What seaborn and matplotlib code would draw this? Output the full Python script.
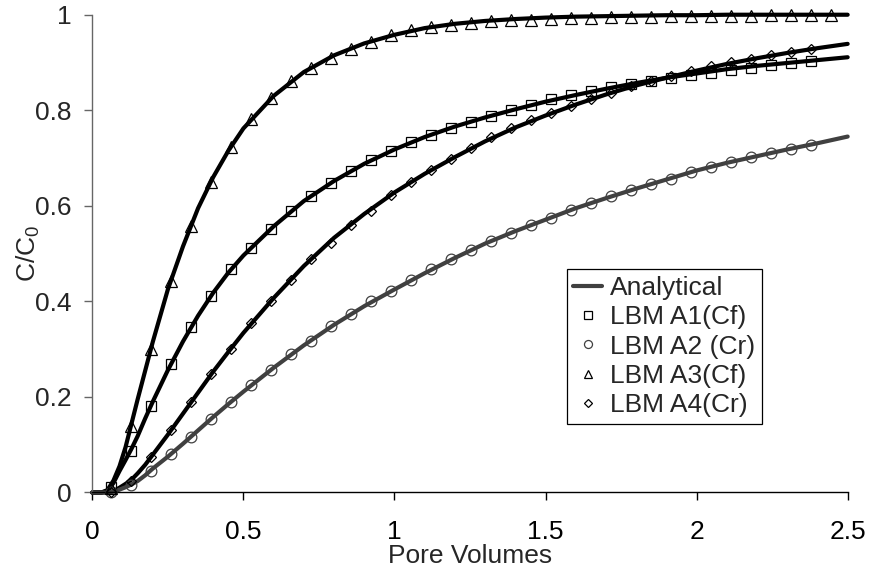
import numpy as np
import pandas as pd
import matplotlib
matplotlib.use("Agg")
import matplotlib.pyplot as plt
import seaborn as sns

sns.set_style("ticks")
plt.rcParams['font.family'] = ['Liberation Sans', 'DejaVu Sans']
plt.rcParams['font.size'] = 19

# sample positions of the LBM points (pore volumes)
lbm_x = [0.062, 0.128, 0.194, 0.261, 0.327, 0.393, 0.459, 0.525, 0.592, 0.658,
         0.724, 0.790, 0.856, 0.923, 0.989, 1.055, 1.121, 1.187, 1.254, 1.320,
         1.386, 1.452, 1.518, 1.585, 1.651, 1.717, 1.783, 1.849, 1.916, 1.982,
         2.048, 2.114, 2.180, 2.246, 2.313, 2.379, 2.445]

lbm_a1 = [0.011, 0.086, 0.182, 0.269, 0.346, 0.412, 0.467, 0.512, 0.552, 0.589,
          0.621, 0.648, 0.673, 0.695, 0.714, 0.733, 0.749, 0.763, 0.776, 0.788,
          0.801, 0.812, 0.823, 0.833, 0.841, 0.848, 0.855, 0.862, 0.868, 0.873,
          0.879, 0.885, 0.889, 0.894, 0.898, 0.903]
lbm_a2 = [0.002, 0.015, 0.045, 0.081, 0.117, 0.154, 0.190, 0.224, 0.257, 0.290,
          0.318, 0.348, 0.374, 0.400, 0.422, 0.445, 0.467, 0.488, 0.508, 0.527,
          0.544, 0.560, 0.575, 0.592, 0.606, 0.621, 0.633, 0.646, 0.657, 0.670,
          0.682, 0.692, 0.702, 0.710, 0.719, 0.728]
lbm_a3 = [0.010, 0.140, 0.300, 0.443, 0.557, 0.649, 0.723, 0.781, 0.825, 0.862,
          0.889, 0.910, 0.929, 0.943, 0.957, 0.967, 0.974, 0.979, 0.983, 0.986,
          0.988, 0.990, 0.992, 0.993, 0.994, 0.995, 0.996, 0.996, 0.997, 0.997,
          0.998, 0.998, 0.998, 0.999, 0.999, 0.999, 0.999]
lbm_a4 = [0.000, 0.025, 0.074, 0.130, 0.189, 0.247, 0.301, 0.354, 0.400, 0.445,
          0.488, 0.523, 0.560, 0.590, 0.622, 0.649, 0.674, 0.698, 0.722, 0.744,
          0.763, 0.779, 0.794, 0.809, 0.824, 0.836, 0.851, 0.861, 0.872, 0.883,
          0.893, 0.901, 0.908, 0.915, 0.922, 0.929]

# analytical solutions
ana_x = [0, 0.03, 0.05, 0.07, 0.09, 0.11, 0.13, 0.15, 0.175, 0.2,
         0.25, 0.3, 0.35, 0.4, 0.45, 0.5,
         0.6, 0.7, 0.8, 0.9, 1.0, 1.1, 1.2, 1.3, 1.4, 1.5,
         1.6, 1.7, 1.8, 1.9, 2.0, 2.1, 2.2, 2.3, 2.4, 2.5]
ana_a1 = [0, 0, 0.003, 0.020, 0.045, 0.068, 0.092, 0.118, 0.155, 0.190,
          0.256, 0.316, 0.370, 0.418, 0.460, 0.496,
          0.557, 0.610, 0.652, 0.688, 0.718, 0.744, 0.766, 0.785, 0.802, 0.818,
          0.832, 0.845, 0.857, 0.868, 0.877, 0.886, 0.893, 0.899, 0.905, 0.911]
ana_a2 = [0, 0, 0, 0.002, 0.006, 0.011, 0.017, 0.024, 0.036, 0.050,
          0.075, 0.102, 0.130, 0.158, 0.185, 0.211,
          0.261, 0.308, 0.351, 0.390, 0.425, 0.459, 0.491, 0.521, 0.547, 0.571,
          0.595, 0.616, 0.636, 0.655, 0.674, 0.690, 0.704, 0.718, 0.731, 0.745]
ana_a3 = [0, 0, 0.005, 0.025, 0.055, 0.095, 0.145, 0.195, 0.255, 0.315,
          0.425, 0.515, 0.595, 0.660, 0.715, 0.762,
          0.830, 0.880, 0.915, 0.940, 0.958, 0.972, 0.981, 0.987, 0.991, 0.994,
          0.996, 0.997, 0.998, 0.999, 0.999, 1.0, 1.0, 1.0, 1.0, 1.0]
ana_a4 = [0, 0, 0, 0.003, 0.010, 0.018, 0.027, 0.040, 0.058, 0.079,
          0.121, 0.165, 0.209, 0.253, 0.294, 0.334,
          0.407, 0.474, 0.533, 0.583, 0.628, 0.667, 0.702, 0.735, 0.764, 0.789,
          0.812, 0.833, 0.852, 0.868, 0.883, 0.897, 0.909, 0.920, 0.930, 0.939]

x_ticks = [0, 0.5, 1, 1.5, 2, 2.5]
x_ticklabels = ['0', '0.5', '1', '1.5', '2', '2.5']
y_ticks = [0, 0.2, 0.4, 0.6, 0.8, 1]
y_ticklabels = ['0', '0.2', '0.4', '0.6', '0.8', '1']

gray = '#404040'

fig = plt.figure(figsize=(8.71, 5.73), dpi=100)
ax = fig.add_axes([0.106, 0.1405, 0.8672, 0.8338])

# analytical curves
for yy, col, lab in [(ana_a1, 'black', None), (ana_a3, 'black', None),
                     (ana_a4, 'black', None), (ana_a2, gray, 'Analytical')]:
    sns.lineplot(x=ana_x, y=yy, ax=ax, color=col, linewidth=3.0,
                 label=lab, clip_on=False, legend=False, zorder=2)

# LBM points
series = [(lbm_a1, 's', 7.7, 'black', 'LBM A1(Cf)'),
          (lbm_a2, 'o', 7.7, gray, 'LBM A2 (Cr)'),
          (lbm_a3, '^', 8.0, 'black', 'LBM A3(Cf)'),
          (lbm_a4, 'D', 5.5, 'black', 'LBM A4(Cr)')]
for yy, mk, ms, col, lab in series:
    sns.lineplot(x=lbm_x[:len(yy)], y=yy, ax=ax, marker=mk, markersize=ms,
                 linestyle='', markerfacecolor='none', markeredgecolor=col,
                 markeredgewidth=0.9, color=col, label=lab, clip_on=False,
                 legend=False, zorder=3)

ax.set_xlim(0, 2.5)
ax.set_ylim(0, 1)
ax.set_xticks(x_ticks)
ax.set_xticklabels(x_ticklabels)
ax.set_yticks(y_ticks)
ax.set_yticklabels(y_ticklabels)
ax.tick_params(axis='x', direction='out', length=6, width=1, pad=14, colors='black')
ax.tick_params(axis='y', direction='out', length=6, width=1, pad=9, color='#666666')

sns.despine(ax=ax)
ax.spines['left'].set_color('#666666')
ax.spines['bottom'].set_color('black')
ax.spines['left'].set_linewidth(1)
ax.spines['bottom'].set_linewidth(1)

ax.set_xlabel('Pore Volumes')
ax.set_ylabel(r'C/C$_\mathregular{0}$')
ax.xaxis.set_label_coords(0.5, -0.108)
ax.yaxis.set_label_coords(-0.066, 0.5)

handles, labels = ax.get_legend_handles_labels()
order = ['Analytical', 'LBM A1(Cf)', 'LBM A2 (Cr)', 'LBM A3(Cf)', 'LBM A4(Cr)']
hmap = dict(zip(labels, handles))
leg = ax.legend([hmap[k] for k in order], order, loc='upper left',
                bbox_to_anchor=(0.628, 0.467), borderaxespad=0, frameon=True,
                fancybox=False, edgecolor='black', framealpha=1,
                handlelength=1.1, handletextpad=0.3, labelspacing=0.2,
                borderpad=0.25, markerscale=0.75, fontsize=19)
leg.get_frame().set_linewidth(0.9)

fig.savefig('out.png', dpi=100)
